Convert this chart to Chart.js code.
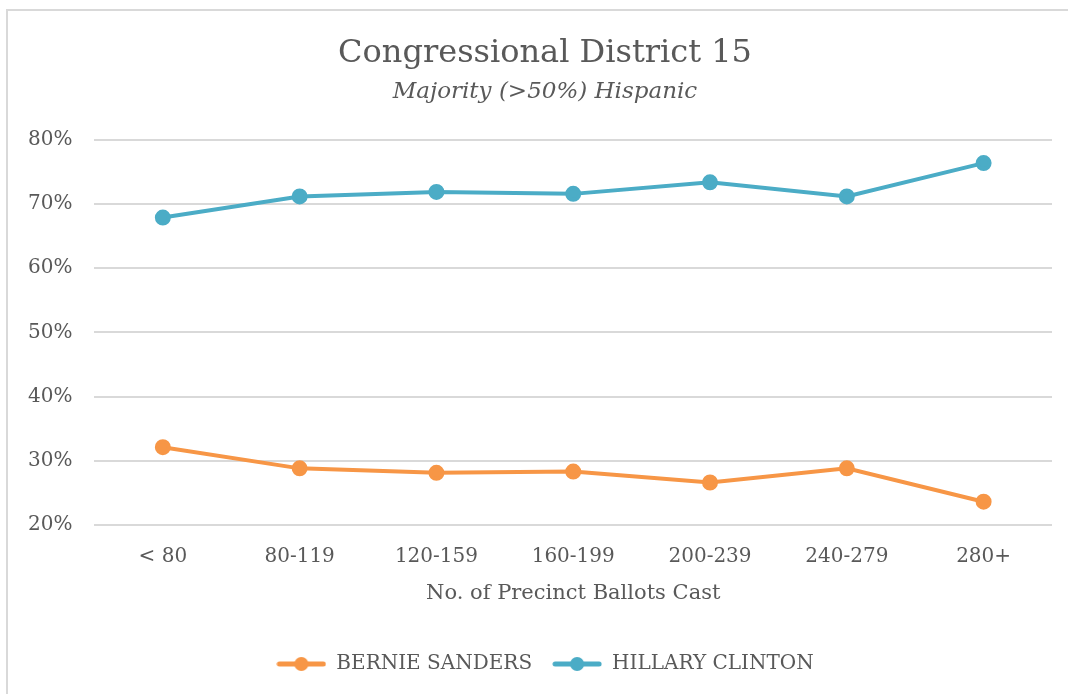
<!DOCTYPE html>
<html>
<head>
<meta charset="utf-8">
<script src="https://cdn.jsdelivr.net/npm/chart.js@4.4.1/dist/chart.umd.min.js"></script>
<style>
  html, body { margin: 0; padding: 0; background: #fff; overflow: hidden; }
  #frame { position: absolute; left: 6px; top: 9px; width: 1200px; height: 800px;
           border-left: 2px solid #d9d9d9; border-top: 2px solid #d9d9d9; }
  #wrap { position: absolute; left: 0; top: 0; width: 1068px; height: 694px; }
</style>
</head>
<body>
<div id="frame"></div>
<div id="wrap"><canvas id="chart"></canvas></div>
<script>
const categories = ['< 80', '80-119', '120-159', '160-199', '200-239', '240-279', '280+'];
const sanders = [0.321, 0.288, 0.281, 0.283, 0.266, 0.288, 0.236];
const clinton = [0.679, 0.712, 0.719, 0.716, 0.734, 0.712, 0.764];

const FONT = "'DejaVu Serif', serif";
const TEXT = '#595959';

function legendIcon(color) {
  const c = document.createElement('canvas');
  c.width = 50; c.height = 20;
  const g = c.getContext('2d');
  g.strokeStyle = color; g.lineWidth = 5; g.lineCap = 'round';
  g.beginPath(); g.moveTo(3, 10); g.lineTo(47, 10); g.stroke();
  g.fillStyle = color;
  g.beginPath(); g.arc(25, 10, 7, 0, Math.PI * 2); g.fill();
  return c;
}

// title, subtitle and legend sit a bit right of the canvas centre in the original
const nudgeBlocks = {
  id: 'nudgeBlocks',
  afterLayout(chart) {
    chart.boxes.filter(b => !b.axis).forEach(b => { b.left += 32; });
  }
};

const ctx = document.getElementById('chart').getContext('2d');
new Chart(ctx, {
  type: 'line',
  data: {
    labels: categories,
    datasets: [
      { label: 'BERNIE SANDERS', data: sanders, borderColor: '#F79646', backgroundColor: '#F79646',
        borderWidth: 4, pointRadius: 6, pointHoverRadius: 6, tension: 0 },
      { label: 'HILLARY CLINTON', data: clinton, borderColor: '#4BACC6', backgroundColor: '#4BACC6',
        borderWidth: 4, pointRadius: 6, pointHoverRadius: 6, tension: 0 }
    ]
  },
  plugins: [nudgeBlocks],
  options: {
    responsive: true,
    maintainAspectRatio: false,
    animation: false,
    layout: { padding: { left: 6, right: 16, top: 34, bottom: 10 } },
    plugins: {
      title: { display: true, text: 'Congressional District 15', color: TEXT,
               font: { family: FONT, size: 32, weight: 'normal' }, padding: { top: 0, bottom: 6 } },
      subtitle: { display: true, text: 'Majority (>50%) Hispanic', color: TEXT,
                  font: { family: FONT, size: 23, style: 'italic' }, padding: { bottom: 34 } },
      legend: {
        position: 'bottom',
        labels: {
          color: TEXT, font: { family: FONT, size: 20 },
          usePointStyle: true, pointStyleWidth: 50, boxHeight: 20, padding: 20,
          generateLabels: chart => chart.data.datasets.map((d, i) => ({
            text: d.label, fillStyle: d.borderColor, strokeStyle: d.borderColor,
            pointStyle: legendIcon(d.borderColor), fontColor: TEXT, datasetIndex: i, lineWidth: 0
          }))
        }
      },
      tooltip: { enabled: false }
    },
    scales: {
      x: {
        offset: true,
        grid: { display: false },
        border: { display: false },
        ticks: { color: TEXT, font: { family: FONT, size: 20 }, padding: 12 },
        title: { display: true, text: 'No. of Precinct Ballots Cast', color: TEXT,
                 font: { family: FONT, size: 21 }, padding: { top: 0, bottom: 28 } }
      },
      y: {
        min: 0.2, max: 0.8,
        ticks: { stepSize: 0.1, color: TEXT, font: { family: FONT, size: 20 }, padding: 22,
                 callback: v => Math.round(v * 100) + '%' },
        grid: { color: '#d9d9d9', lineWidth: 2, drawTicks: false },
        border: { display: false }
      }
    }
  }
});
</script>
</body>
</html>
